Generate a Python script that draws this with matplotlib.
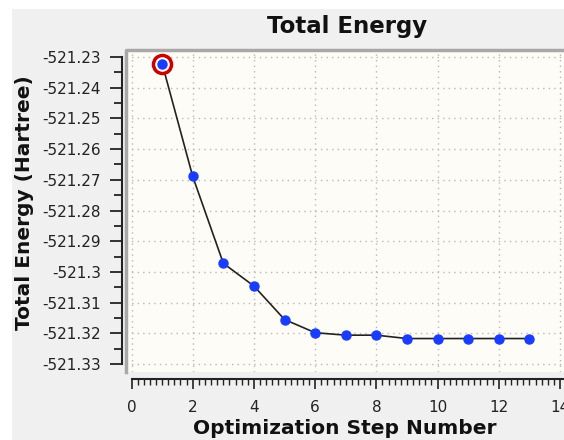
# -*- coding: utf-8 -*-
import matplotlib
matplotlib.use('Agg')
import matplotlib.pyplot as plt
from matplotlib.patches import Rectangle
from matplotlib.ticker import MultipleLocator, FormatStrFormatter

steps = [1, 2, 3, 4, 5, 6, 7, 8, 9, 10, 11, 12, 13]
energy = [-521.2321, -521.2689, -521.2972, -521.3046, -521.3155, -521.3198,
          -521.3206, -521.3206, -521.3217, -521.3217, -521.3217, -521.3217, -521.3217]
yticks = [-521.23, -521.24, -521.25, -521.26, -521.27, -521.28,
          -521.29, -521.3, -521.31, -521.32, -521.33]
ytick_labels = ['-521.23', '-521.24', '-521.25', '-521.26', '-521.27', '-521.28',
                '-521.29', '-521.3', '-521.31', '-521.32', '-521.33']
xticks = [0, 2, 4, 6, 8, 10, 12, 14]

plt.rcParams['font.family'] = ['DejaVu Sans']

fig = plt.figure(figsize=(5.64, 4.4), dpi=100)
fig.patch.set_facecolor('white')
# grey panel behind everything (white strip left/top)
fig.patches.append(Rectangle((12/564., 0), 1, 1 - 9/440., transform=fig.transFigure,
                             facecolor='#f0f0f0', edgecolor='none', zorder=-10))

ax = fig.add_axes([126/564., 68/440., 449/564., 322/440.])
ax.set_facecolor('#fdfcf6')

ax.plot(steps, energy, color='#222222', lw=1.2, zorder=3)
ax.plot(steps, energy, 'o', color='#1a3cff', ms=6.5, mec='#1a3cff', zorder=4)
# highlighted current point
ax.plot(steps[0], energy[0], 'o', ms=13, mfc='white', mec='#cc0000', mew=2.5, zorder=5)
ax.plot(steps[0], energy[0], 'o', ms=6.5, color='#1a3cff', zorder=6)

ax.set_xlim(-0.18, 14.49)
ax.set_ylim(-521.3326, -521.2277)

ax.set_yticks(yticks)
ax.set_yticklabels(ytick_labels)
ax.yaxis.set_minor_locator(MultipleLocator(0.005))
ax.set_xticks(xticks)
ax.xaxis.set_major_formatter(FormatStrFormatter('%d'))
ax.xaxis.set_minor_locator(MultipleLocator(0.2))

ax.tick_params(axis='y', which='major', direction='out', length=9, width=1.3,
               labelsize=11, pad=6, colors='#222222')
ax.tick_params(axis='y', which='minor', direction='out', length=6, width=1.3, colors='#222222')
ax.tick_params(axis='x', which='major', direction='out', length=7, width=1.2,
               labelsize=11, pad=8, colors='#222222')
ax.tick_params(axis='x', which='minor', direction='out', length=4, width=1.0, colors='#222222')

ax.grid(True, which='major', color='#b8b8b8', linestyle=(0, (1, 3)), lw=1.0)

for s in ['top', 'right']:
    ax.spines[s].set_visible(False)
ax.spines['left'].set_position(('outward', 3))
ax.spines['left'].set_bounds(-521.33, -521.23)
ax.spines['left'].set_linewidth(1.5)
ax.spines['left'].set_color('#222222')
ax.spines['bottom'].set_position(('outward', 5))
ax.spines['bottom'].set_bounds(0, 14.49)
ax.spines['bottom'].set_linewidth(1.5)
ax.spines['bottom'].set_color('#222222')

# grey frame of the plot area (left and top)
ax.plot([0, 0, 1], [0, 1, 1], transform=ax.transAxes, color='#a8a8a8', lw=2.5,
        clip_on=False, zorder=7)

fig.text(347/564., 1 - 27/440., 'Total Energy', ha='center', va='center',
         fontsize=16.5, fontweight='bold', color='#111111')
fig.text(345/564., 1 - 428/440., 'Optimization Step Number', ha='center', va='center',
         fontsize=14.5, fontweight='bold', color='#111111')
fig.text(25/564., 1 - 203/440., 'Total Energy (Hartree)', ha='center', va='center',
         rotation=90, fontsize=14.5, fontweight='bold', color='#111111')

fig.savefig('out.png', dpi=100)
